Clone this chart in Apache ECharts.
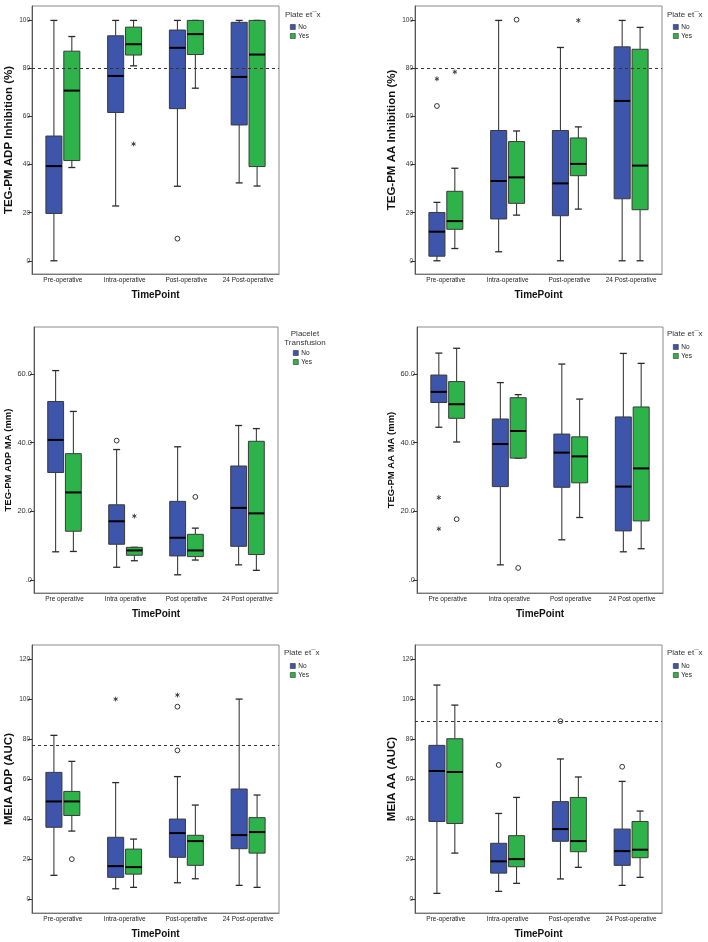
<!DOCTYPE html>
<html><head><meta charset="utf-8">
<script src="https://cdn.jsdelivr.net/npm/echarts@6/dist/echarts.min.js"></script>
<style>html,body{margin:0;padding:0;background:#fff}#c{width:708px;height:942px}</style>
</head><body><div id="c"></div>
<script>
// ---------- data ----------
const catsA = ['Pre-operative', 'Intra-operative', 'Post-operative', '24 Post-operative'];
const catsB = ['Pre operative', 'Intra operative', 'Post operative', '24 Post operative'];
const catsC = ['Pre operative', 'Intra operative', 'Post operative', '24 Post opertive'];
const groups = ['No', 'Yes'];
const CIRCLE = 0, STAR = 1;

// each box: [min, Q1, median, Q3, max]
const adpInhNo  = [[0,19.7,39.4,51.9,100],[22.8,61.7,76.9,93.6,100],[31,63.3,88.6,96,100],[32.4,56.5,76.5,99.2,100]];
const adpInhYes = [[38.8,41.7,70.8,87.2,93.3],[81.1,85.6,90.1,97.2,100],[71.8,85.8,94.3,100,100],[31.1,39.2,85.8,100,100]];
const adpInhOutNo  = [[2,9.2,CIRCLE]];
const adpInhOutYes = [[1,48.6,STAR]];

const aaInhNo  = [[0,1.9,12.1,20.1,24.3],[3.75,17.4,33.2,54.2,100],[0,18.75,32.2,54.2,88.75],[0,25.8,66.5,89,100]];
const aaInhYes = [[5.1,13.1,16.5,28.9,38.5],[19,23.9,34.7,49.6,54],[21.5,35.4,40.3,51.1,55.7],[0,21.25,39.6,88,97.1]];
const aaInhOutNo  = [[0,75.7,STAR],[0,64.4,CIRCLE]];
const aaInhOutYes = [[0,78.6,STAR],[1,100.3,CIRCLE],[2,100,STAR]];

const adpMaNo  = [[8.2,31.3,40.8,52,61],[3.7,10.4,17.1,21.9,38],[1.5,7,12.3,22.9,38.8],[4.4,9.8,21,33.2,45]];
const adpMaYes = [[8.3,14.2,25.5,36.8,49.1],[5.6,7.2,8.6,9.5,9.5],[5.8,6.8,8.6,13.3,15.1],[2.8,7.4,19.4,40.4,44.1]];
const adpMaOutNo  = [[1,40.6,CIRCLE]];
const adpMaOutYes = [[1,18.6,STAR],[2,24.2,CIRCLE]];

const aaMaNo  = [[44.5,51.7,54.8,59.7,66.1],[4.4,27.2,39.6,46.9,57.5],[11.7,27,37.1,42.5,62.9],[8.2,14.3,27.2,47.5,66]];
const aaMaYes = [[40.2,47.1,51.2,57.8,67.5],[35.5,35.5,43.4,53.1,54],[18.2,28.3,36,41.7,52.7],[9.1,17.2,32.5,50.4,63.1]];
const aaMaOutNo  = [[0,24,STAR],[0,14.9,STAR]];
const aaMaOutYes = [[0,17.7,CIRCLE],[1,3.5,CIRCLE]];

const meiaAdpNo  = [[12,36,48.9,63.4,81.9],[5.3,11,16.6,31,58.3],[8.3,21,33.1,40.1,61.3],[7,25.3,32.1,55.1,100]];
const meiaAdpYes = [[34.1,41.9,48.9,53.9,68.9],[6,12.6,16.1,25.1,30.1],[10.3,17,29.1,32,47.1],[6,23.1,33.6,40.8,52.1]];
const meiaAdpOutNo  = [[1,100,STAR],[2,102,STAR],[2,96.2,CIRCLE],[2,74.4,CIRCLE]];
const meiaAdpOutYes = [[0,20.1,CIRCLE]];

const meiaAaNo  = [[3,38.9,64.1,76.9,107],[4,13.1,19,28,42.9],[10.2,29,35.1,48.8,70.1],[7,17,24.1,35.1,58.9]];
const meiaAaYes = [[23.1,37.9,63.6,80.2,97],[8,16.3,20.1,31.8,50.9],[16,23.8,29.1,50.9,61.1],[11,20.8,24.8,38.9,44.1]];
const meiaAaOutNo  = [[1,67.1,CIRCLE],[2,89,CIRCLE],[3,66.2,CIRCLE]];
const meiaAaOutYes = [];

const ticks100 = [0,20,40,60,80,100];
const ticks60  = [0,20,40,60];
const ticks120 = [0,20,40,60,80,100,120];

const refLines = [80, 80, null, null, 77, 89];
const yNames = ['TEG-PM ADP Inhibition (%)','TEG-PM AA Inhibition (%)','TEG-PM ADP MA (mm)','TEG-PM AA MA (mm)','MEIA ADP (AUC)','MEIA AA (AUC)'];
const xTitle = 'TimePoint';
const legendTitleA = 'Plate et\u00AFx';
const legendTitleB = 'Placelet\nTransfusion';

// ---------- layout ----------
const FONT = 'Liberation Sans, Arial, sans-serif';
const BLUE = '#3D55AB', GREEN = '#2EB34A';
const panels = [
  {grid:{left:32, top:6, width:247, height:268}, min:-5.5, max:106, ticks:ticks100, cats:catsA, no:adpInhNo, yes:adpInhYes, oNo:adpInhOutNo, oYes:adpInhOutYes, nameGap:16, nameSize:11.5, tickSize:6.5, fmt:v=>String(v), leg:{tx:285, ty:15, title:legendTitleA, align:'left', lx:290, ly:23}},
  {grid:{left:415, top:6, width:247, height:268}, min:-5.5, max:106, ticks:ticks100, cats:catsA, no:aaInhNo, yes:aaInhYes, oNo:aaInhOutNo, oYes:aaInhOutYes, nameGap:17, nameSize:11.5, tickSize:6.5, fmt:v=>String(v), leg:{tx:667, ty:15, title:legendTitleA, align:'left', lx:673, ly:23}},
  {grid:{left:34, top:327, width:244, height:266}, min:-3.8, max:73.7, ticks:ticks60, cats:catsB, no:adpMaNo, yes:adpMaYes, oNo:adpMaOutNo, oYes:adpMaOutYes, nameGap:20, nameSize:9.5, tickSize:7.5, fmt:v=>v===0?'.0':v.toFixed(1), leg:{tx:305, ty:338.5, title:legendTitleB, align:'center', lx:293, ly:349}},
  {grid:{left:417, top:327, width:246, height:266}, min:-3.8, max:73.7, ticks:ticks60, cats:catsC, no:aaMaNo, yes:aaMaYes, oNo:aaMaOutNo, oYes:aaMaOutYes, nameGap:19, nameSize:9.5, tickSize:7.5, fmt:v=>v===0?'.0':v.toFixed(1), leg:{tx:667, ty:334, title:legendTitleA, align:'left', lx:673, ly:343}},
  {grid:{left:32, top:645, width:247, height:268}, min:-6.8, max:127, ticks:ticks120, cats:catsA, no:meiaAdpNo, yes:meiaAdpYes, oNo:meiaAdpOutNo, oYes:meiaAdpOutYes, nameGap:17, nameSize:11.5, tickSize:6.5, fmt:v=>String(v), leg:{tx:284, ty:653, title:legendTitleA, align:'left', lx:290, ly:662}},
  {grid:{left:415, top:645, width:247, height:268}, min:-6.8, max:127, ticks:ticks120, cats:catsA, no:meiaAaNo, yes:meiaAaYes, oNo:meiaAaOutNo, oYes:meiaAaOutYes, nameGap:17, nameSize:11.5, tickSize:6.5, fmt:v=>String(v), leg:{tx:667, ty:653, title:legendTitleA, align:'left', lx:673, ly:662}}
];

const OFFSET = 0.145, HALF = 0.13, CAP = 3.5;

function boxSeries(name, color, gi, boxes, side) {
  return {
    type:'custom', name, xAxisIndex:gi, yAxisIndex:gi,
    itemStyle:{color},
    encode:{x:0, y:[1,2,3,4,5]},
    data: boxes.map((b,i)=>[i].concat(b)),
    renderItem(params, api) {
      const cat = api.value(0);
      const bw = api.size([1,0])[0];
      const cx = api.coord([cat,0])[0] + side*bw*OFFSET;
      const hw = bw*HALF;
      const y = k => api.coord([cat, api.value(k)])[1];
      const yMin=y(1), yQ1=y(2), yMed=y(3), yQ3=y(4), yMax=y(5);
      const ln = {stroke:'#2a2a2a', lineWidth:1};
      return {type:'group', children:[
        {type:'line', shape:{x1:cx,y1:yMax,x2:cx,y2:yQ3}, style:ln},
        {type:'line', shape:{x1:cx,y1:yQ1,x2:cx,y2:yMin}, style:ln},
        {type:'line', shape:{x1:cx-CAP,y1:yMax,x2:cx+CAP,y2:yMax}, style:{stroke:'#2a2a2a', lineWidth:1.3}},
        {type:'line', shape:{x1:cx-CAP,y1:yMin,x2:cx+CAP,y2:yMin}, style:{stroke:'#2a2a2a', lineWidth:1.3}},
        {type:'rect', shape:{x:cx-hw, y:yQ3, width:2*hw, height:Math.max(yQ1-yQ3,0.5)}, style:{fill:color, stroke:'#3a3a3a', lineWidth:1}},
        {type:'line', shape:{x1:cx-hw,y1:yMed,x2:cx+hw,y2:yMed}, style:{stroke:'#000', lineWidth:2}}
      ]};
    }
  };
}

function outlierSeries(gi, pts, side) {
  return {
    type:'custom', name:'outliers', xAxisIndex:gi, yAxisIndex:gi,
    encode:{x:0, y:1},
    data: pts,
    renderItem(params, api) {
      const cat = api.value(0), v = api.value(1), kind = api.value(2);
      const bw = api.size([1,0])[0];
      const p = api.coord([cat, v]);
      const cx = p[0] + side*bw*OFFSET, cy = p[1];
      if (kind === CIRCLE) {
        return {type:'circle', shape:{cx, cy, r:2.4}, style:{fill:'none', stroke:'#333', lineWidth:1}};
      }
      const r = 2.4, ch = [];
      [90, 30, -30].forEach(a => {
        const dx = r*Math.cos(a*Math.PI/180), dy = r*Math.sin(a*Math.PI/180);
        ch.push({type:'line', shape:{x1:cx-dx,y1:cy-dy,x2:cx+dx,y2:cy+dy}, style:{stroke:'#333', lineWidth:0.9}});
      });
      return {type:'group', children:ch};
    }
  };
}

const grid=[], xAxis=[], yAxis=[], series=[], legend=[], graphic=[];
panels.forEach((p, gi) => {
  grid.push(Object.assign({show:true, borderColor:'#8a8a8a', borderWidth:1, backgroundColor:'transparent'}, p.grid));
  xAxis.push({
    type:'category', gridIndex:gi, data:p.cats,
    name:xTitle, nameLocation:'middle', nameGap:16,
    nameTextStyle:{fontFamily:FONT, fontWeight:'bold', fontSize:10, color:'#111'},
    axisLine:{onZero:false, lineStyle:{color:'#777'}},
    axisTick:{alignWithLabel:true, length:4, lineStyle:{color:'#333'}},
    axisLabel:{fontFamily:FONT, fontSize:6.5, color:'#222', margin:3, interval:0},
    splitLine:{show:false}
  });
  yAxis.push({
    type:'value', gridIndex:gi, min:p.min, max:p.max,
    name:yNames[gi], nameLocation:'middle', nameGap:p.nameGap,
    nameTextStyle:{fontFamily:FONT, fontWeight:'bold', fontSize:p.nameSize, color:'#111'},
    axisLine:{show:true, onZero:false, lineStyle:{color:'#555'}},
    axisTick:{show:true, length:4, customValues:p.ticks, lineStyle:{color:'#333'}},
    axisLabel:{fontFamily:FONT, fontSize:p.tickSize, color:'#333', margin:2, customValues:p.ticks, formatter:p.fmt},
    splitLine:{show:false}
  });
  series.push(boxSeries('No', BLUE, gi, p.no, -1));
  series.push(boxSeries('Yes', GREEN, gi, p.yes, 1));
  series.push(outlierSeries(gi, p.oNo, -1));
  series.push(outlierSeries(gi, p.oYes, 1));
  if (refLines[gi] != null) {
    series.push({type:'line', name:'ref', xAxisIndex:gi, yAxisIndex:gi, data:[], silent:true,
      markLine:{silent:true, symbol:'none', label:{show:false}, animation:false,
        lineStyle:{type:[3,3], color:'#333', width:1}, data:[{yAxis:refLines[gi]}]}});
  }
  legend.push({
    data:groups, left:p.leg.lx, top:p.leg.ly, orient:'vertical', padding:0,
    icon:'rect', itemWidth:5, itemHeight:5, itemGap:1,
    itemStyle:{borderColor:'#333', borderWidth:0.6},
    textStyle:{fontFamily:FONT, fontSize:6.5, color:'#222', lineHeight:8, padding:[0,0,0,-2]}
  });
  graphic.push({type:'text', x:p.leg.tx, y:p.leg.ty,
    style:{text:p.leg.title, fill:'#333', font:'8px ' + FONT, align:p.leg.align, verticalAlign:'middle', lineHeight:8.7}});
});

const chart = echarts.init(document.getElementById('c'), null, {renderer:'canvas'});
chart.setOption({animation:false, grid, xAxis, yAxis, series, legend, graphic});
</script></body></html>
